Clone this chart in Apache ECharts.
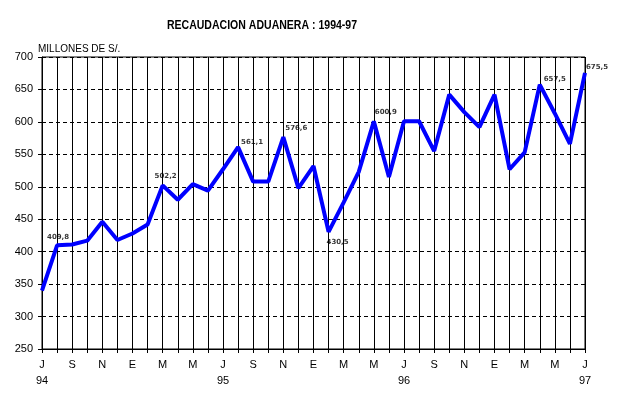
<!DOCTYPE html>
<html>
<head>
<meta charset="utf-8">
<script src="https://cdn.jsdelivr.net/npm/echarts@6/dist/echarts.min.js"></script>
<style>html,body{margin:0;padding:0;background:#fff}#c{width:620px;height:395px}</style>
</head>
<body>
<div id="c"></div>
<script>
const categories = ['Jul 94','Ago 94','Sep 94','Oct 94','Nov 94','Dic 94','Ene 95','Feb 95','Mar 95','Abr 95','May 95','Jun 95',
  'Jul 95','Ago 95','Sep 95','Oct 95','Nov 95','Dic 95','Ene 96','Feb 96','Mar 96','Abr 96','May 96','Jun 96',
  'Jul 96','Ago 96','Sep 96','Oct 96','Nov 96','Dic 96','Ene 97','Feb 97','Mar 97','Abr 97','May 97','Jun 97','Jul 97'];
const tickLabels = ['J\n94','','S','','N','','E','','M','','M','',
  'J\n95','','S','','N','','E','','M','','M','',
  'J\n96','','S','','N','','E','','M','','M','','J\n97'];
const values = [340,409.8,411,417,446,418,428,442,502.2,480,504,494,
  527,561.1,508,508,576.6,498,532,430.5,476,523,600.9,515,
  601,601,555,642,615,592,642,527,553,657.5,613,566,675.5];
const labeledIdx = [1,8,13,16,19,22,33,36];
const yTicks = [250,300,350,400,450,500,550,600,650,700];
const titleText = 'RECAUDACION ADUANERA : 1994-97';
const unitText = 'MILLONES DE S/.';

const labelOffsets = {1:[1,-8],8:[3,-9],13:[14,-5],16:[13,-9],19:[9,10],22:[12,-9],33:[15,-5],36:[12,-6]};

const chart = echarts.init(document.getElementById('c'), null, {renderer:'canvas'});
chart.setOption({
  backgroundColor:'#fff',
  animation:false,
  graphic:[
    {type:'text', x:262, y:25, scaleX:0.81, z:10,
     style:{text:titleText, align:'center', verticalAlign:'middle', fill:'#000',
       font:'bold 13px "Liberation Sans", Arial'}},
    {type:'text', x:38, y:49, z:10,
     style:{text:unitText, align:'left', verticalAlign:'middle', fill:'#000',
       font:'10px "Liberation Sans", Arial'}}
  ],
  grid:{left:42,right:35,top:57,bottom:46,show:true,borderColor:'#000',borderWidth:1,backgroundColor:'transparent'},
  xAxis:{
    type:'category', boundaryGap:false, data:categories,
    axisLine:{lineStyle:{color:'#000',width:1}},
    axisTick:{show:true,interval:0,length:4,lineStyle:{color:'#000'}},
    axisLabel:{interval:0,formatter:(v,i)=>tickLabels[i],color:'#000',fontSize:11,margin:8,lineHeight:16,
      fontFamily:'"Liberation Sans",Arial'},
    splitLine:{show:true,interval:0,lineStyle:{color:'#000',width:1,type:'solid'}}
  },
  yAxis:{
    type:'value', min:yTicks[0], max:yTicks[yTicks.length-1], interval:50,
    axisLine:{show:true,lineStyle:{color:'#000',width:1}},
    axisTick:{show:true,length:4,lineStyle:{color:'#000'}},
    axisLabel:{color:'#000',fontSize:11,margin:9,fontFamily:'"Liberation Sans",Arial'},
    splitLine:{show:true,lineStyle:{color:'#000',width:1,type:[4,3]}}
  },
  series:[
    {type:'line', data:values, symbol:'none', lineStyle:{color:'#0000ff',width:4}, itemStyle:{color:'#0000ff'}, z:3},
    {type:'scatter', symbolSize:1, itemStyle:{color:'rgba(0,0,0,0)'}, z:4,
     data:labeledIdx.map(i=>({value:[i,values[i]],
       label:{show:true,position:'inside',offset:labelOffsets[i],
         formatter:()=>values[i].toFixed(1).replace('.',','),
         color:'#000',fontSize:7,fontWeight:'bold',fontFamily:'"DejaVu Sans",sans-serif'}}))}
  ]
});
</script>
</body>
</html>
